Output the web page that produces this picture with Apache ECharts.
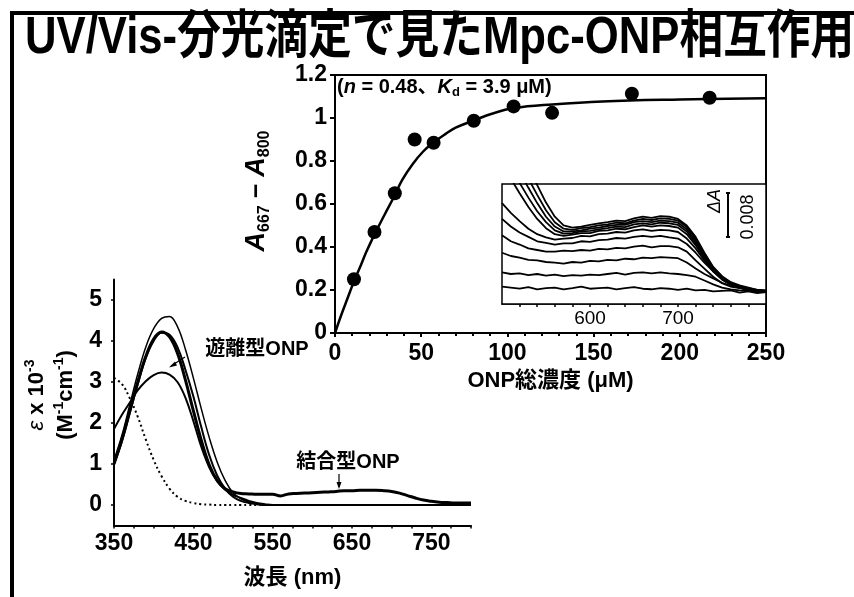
<!DOCTYPE html>
<html><head><meta charset="utf-8">
<script src="https://cdn.jsdelivr.net/npm/echarts@6/dist/echarts.min.js"></script>
<style>html,body{margin:0;padding:0;background:#fff}#c{width:854px;height:597px}</style>
</head><body><div id="c"></div><script>
// ---- Titration (top-right) ----
const titrationConc = [11.0, 22.9, 34.7, 46.2, 57.2, 80.5, 103.6, 125.9, 172.2, 217.3];
const titrationA = [0.25, 0.47, 0.65, 0.90, 0.885, 0.987, 1.054, 1.024, 1.113, 1.094];
const fitConc = [0, 3, 7.5, 11, 15, 18, 23, 28.75, 34, 39, 45, 51, 57, 64, 70, 81, 91, 104, 126, 155, 200, 250];
const fitA = [0, 0.07, 0.166, 0.24, 0.315, 0.374, 0.46, 0.55, 0.63, 0.712, 0.785, 0.843, 0.885, 0.925, 0.955, 0.99, 1.02, 1.046, 1.063, 1.077, 1.086, 1.092];
const titrationXTicks = ['0', '50', '100', '150', '200', '250'];
const titrationYTicks = ['0', '0.2', '0.4', '0.6', '0.8', '1', '1.2'];

// ---- Inset difference spectra (values in units of 0.001 ΔA) ----
const insetNm = [500,510,520,530,540,550,560,570,580,590,600,610,620,630,640,650,660,670,680,690,700,710,720,730,740,750,760,770,780,790,800];
const insetA = [3.2,3.0,2.8,3.1,2.7,2.9,3.0,2.7,2.9,3.2,2.8,2.9,3.0,2.7,2.9,3.1,2.8,2.7,2.9,2.8,2.6,2.8,2.5,2.6,2.3,2.4,2.5,2.1,2.3,2.0,2.2];
const insetB = [5.8,5.5,5.6,5.3,5.5,5.2,5.4,5.1,5.3,5.2,5.4,5.3,5.5,5.7,5.4,5.7,5.8,5.6,5.8,5.6,5.5,5.3,5.0,4.3,3.6,3.0,2.7,2.5,2.4,2.2,2.3];
const insetC = [9.4,8.8,8.5,8.1,8.0,7.7,7.6,7.4,7.7,7.6,7.9,7.8,8.1,8.0,8.3,8.2,8.5,8.4,8.6,8.5,8.4,7.6,6.5,5.5,4.7,3.9,3.3,3.0,2.7,2.5,2.4];
const insetD = [12.6,11.5,10.9,10.2,9.9,9.6,9.6,9.8,9.7,9.9,9.8,10.1,10.0,10.3,10.2,10.5,10.7,10.4,10.6,10.6,10.4,9.6,8.0,6.5,5.0,3.8,3.2,2.9,2.6,2.5,2.4];
const insetE = [15.6,14.2,13.1,12.3,11.5,11.2,10.9,11.1,11.1,11.5,11.4,11.7,11.8,12.1,12.0,12.3,12.5,12.3,12.5,12.2,12.0,11.0,9.4,7.6,6.0,4.6,3.6,3.0,2.7,2.5,2.4];
const insetF = [18.5,16.7,15.2,13.8,12.8,12.2,11.8,12.0,12.1,12.5,12.4,12.8,12.9,13.2,13.1,13.5,13.7,13.4,13.6,13.5,13.2,12.0,10.2,8.0,6.0,4.5,3.5,3.0,2.6,2.4,2.3];
const insetG = [26,23,20.3,17.8,15.6,13.9,12.8,12.5,12.7,13.0,13.0,13.4,13.5,13.8,13.7,14.1,14.4,14.2,14.4,14.3,14.0,12.8,10.8,8.3,6.0,4.5,3.6,3.0,2.6,2.4,2.2];
const insetH = [28,25,22.2,19.5,17.0,15.0,13.5,12.9,13.0,13.3,13.4,13.7,13.9,14.2,14.1,14.6,14.8,14.6,14.9,14.8,14.5,13.3,11.2,8.6,6.2,4.7,3.7,3.1,2.7,2.4,2.3];
const insetI = [30,27,24.2,21.3,18.5,16.0,14.2,13.3,13.3,13.5,13.8,14.0,14.3,14.5,14.5,15.0,15.2,15.0,15.3,15.2,14.9,13.7,11.6,8.9,6.4,4.8,3.8,3.2,2.8,2.5,2.3];
const insetJ = [32,29,26,23,20,17.2,15.0,13.8,13.6,13.9,14.1,14.4,14.6,14.9,14.8,15.3,15.6,15.4,15.7,15.6,15.3,14.1,12.0,9.2,6.6,5.0,3.9,3.3,2.9,2.6,2.4];
const insetK = [34,31,28,25,21.8,18.6,16.0,14.4,14.0,14.2,14.5,14.8,15.0,15.3,15.2,15.7,16.0,15.8,16.1,16.0,15.6,14.4,12.3,9.4,6.8,5.1,4.0,3.4,3.0,2.6,2.5];
const insetXLabels = [600, 700];
const insetXTicks = [520,540,560,580,600,620,640,660,680,700,720,740,760,780];

// ---- Absorption spectra (bottom-left), ε x 10^-3 ----
const specNm = [350,360,370,380,390,400,410,420,430,440,450,460,470,480,490,500,510,520,530,540,550,560,570,580,590,600,610,620,630,640,650,660,670,680,690,700,710,720,730,740,750,760,770,780,790,800];
const specDotted = [3.1,2.95,2.6,2.15,1.6,1.1,0.7,0.4,0.2,0.1,0.05,0.02,0.01,0,0,0,0,0,0,0,0,0,0,0,0,0,0,0,0,0,0,0,0,0,0,0,0,0,0,0,0,0,0,0,0,0];
const specFree = [1.85,2.2,2.5,2.8,3.02,3.17,3.23,3.18,3.0,2.62,2.05,1.42,0.92,0.58,0.37,0.25,0.17,0.1,0.05,0.02,0,0,0,0,0,0,0,0,0,0,0,0,0,0,0,0,0,0,0,0,0,0,0,0,0,0];
const specBound = [1.0,1.6,2.3,3.0,3.62,4.05,4.22,4.1,3.7,3.05,2.3,1.58,0.98,0.6,0.4,0.32,0.28,0.27,0.26,0.26,0.26,0.22,0.27,0.28,0.29,0.3,0.31,0.32,0.33,0.35,0.35,0.36,0.36,0.36,0.35,0.33,0.29,0.23,0.17,0.12,0.09,0.07,0.06,0.05,0.05,0.05];
const specMid = [1.0,1.55,2.25,2.95,3.58,4.0,4.2,4.15,3.85,3.3,2.65,1.9,1.22,0.72,0.4,0.2,0.1,0.05,0.02,0,0,0,0,0,0,0,0,0,0,0,0,0,0,0,0,0,0,0,0,0,0,0,0,0,0,0];
const specTop = [1.1,1.7,2.45,3.2,3.85,4.3,4.55,4.6,4.35,3.8,3.1,2.35,1.65,1.05,0.6,0.3,0.15,0.07,0.03,0.01,0,0,0,0,0,0,0,0,0,0,0,0,0,0,0,0,0,0,0,0,0,0,0,0,0,0];
const specXLabels = [350, 450, 550, 650, 750];
const specXTicks = [350,375,400,425,450,475,500,525,550,575,600,625,650,675,700,725,750,775,800];
const specYLabels = [0, 1, 2, 3, 4, 5];

const FONT = '"Liberation Sans", Arial, sans-serif';
const JFONT = '"Liberation Sans", "Noto Sans CJK JP", sans-serif';
const pair = (xs, ys) => xs.map((x, i) => [x, ys[i]]);
const blk = '#000';

const insetSeries = [insetA, insetB, insetC, insetD, insetE, insetF, insetG, insetH, insetI, insetJ, insetK].map(arr => ({
  type: 'line', xAxisIndex: 1, yAxisIndex: 1, data: pair(insetNm, arr), showSymbol: false,
  lineStyle: {color: blk, width: 1.8}, smooth: false, z: 5
}));

const chart = echarts.init(document.getElementById('c'));
chart.setOption({
  animation: false,
  backgroundColor: '#fff',
  grid: [
    {left: 335, top: 75, width: 431, height: 258, show: true, borderColor: blk, borderWidth: 2, backgroundColor: 'transparent'},
    {left: 502, top: 184, width: 264, height: 120, show: true, borderColor: blk, borderWidth: 1.5, backgroundColor: '#fff', z: 3},
    {left: 114, top: 279.5, width: 357, height: 246}
  ],
  xAxis: [
    {gridIndex: 0, type: 'value', min: 0, max: 250, interval: 50,
     axisLine: {lineStyle: {color: blk, width: 2}},
     axisTick: {show: true, length: 4, lineStyle: {color: blk, width: 2}},
     minorTick: {show: true, splitNumber: 5, length: 3, lineStyle: {color: blk, width: 2}},
     splitLine: {show: false},
     axisLabel: {color: blk, fontSize: 23, fontWeight: 'bold', fontFamily: FONT, margin: 9,
       formatter: (v) => titrationXTicks[Math.round(v / 50)]},
     name: 'ONP総濃度 (μM)', nameLocation: 'middle', nameGap: 37,
     nameTextStyle: {color: blk, fontSize: 22, fontWeight: 'bold', fontFamily: JFONT}},
    {gridIndex: 1, type: 'value', min: 500, max: 800, interval: 100,
     axisLine: {lineStyle: {color: blk, width: 1.5}},
     axisTick: {show: true, length: 3, customValues: insetXTicks, lineStyle: {color: blk, width: 1.5}},
     splitLine: {show: false},
     axisLabel: {color: blk, fontSize: 19, fontFamily: FONT, margin: 5, customValues: insetXLabels}},
    {gridIndex: 2, type: 'value', min: 350, max: 800,
     axisLine: {onZero: false, lineStyle: {color: blk, width: 2}},
     axisTick: {show: true, length: 3, customValues: specXTicks, lineStyle: {color: blk, width: 1.5}},
     splitLine: {show: false},
     axisLabel: {color: blk, fontSize: 23, fontWeight: 'bold', fontFamily: FONT, margin: 7, customValues: specXLabels},
     name: '波長 (nm)', nameLocation: 'middle', nameGap: 41,
     nameTextStyle: {color: blk, fontSize: 22, fontWeight: 'bold', fontFamily: JFONT}}
  ],
  yAxis: [
    {gridIndex: 0, type: 'value', min: 0, max: 1.2, interval: 0.2,
     axisLine: {show: true, lineStyle: {color: blk, width: 2}},
     axisTick: {show: true, length: 5, lineStyle: {color: blk, width: 2}},
     splitLine: {show: false},
     axisLabel: {color: blk, fontSize: 23, fontWeight: 'bold', fontFamily: FONT, margin: 8,
       formatter: (v) => titrationYTicks[Math.round(v / 0.2)]}},
    {gridIndex: 1, type: 'value', min: 0, max: 22, show: false},
    {gridIndex: 2, type: 'value', min: -0.5, max: 5.5,
     axisLine: {show: true, onZero: false, lineStyle: {color: blk, width: 2}},
     axisTick: {show: true, length: 3, customValues: specYLabels, lineStyle: {color: blk, width: 1.5}},
     splitLine: {show: false},
     axisLabel: {color: blk, fontSize: 23, fontWeight: 'bold', fontFamily: FONT, margin: 12, customValues: specYLabels}}
  ],
  series: [
    {type: 'line', xAxisIndex: 0, yAxisIndex: 0, data: pair(fitConc, fitA), smooth: 0.4, showSymbol: false,
     lineStyle: {color: blk, width: 2.5}, z: 2},
    {type: 'scatter', xAxisIndex: 0, yAxisIndex: 0, data: pair(titrationConc, titrationA), symbol: 'circle', symbolSize: 14,
     itemStyle: {color: blk, opacity: 1}, z: 4},
    ...insetSeries,
    {type: 'line', xAxisIndex: 2, yAxisIndex: 2, data: pair(specNm, specDotted), smooth: 0.4, showSymbol: false,
     lineStyle: {color: blk, width: 2, type: [2, 3]}},
    {type: 'line', xAxisIndex: 2, yAxisIndex: 2, data: pair(specNm, specFree), smooth: 0.4, showSymbol: false,
     lineStyle: {color: blk, width: 2}},
    {type: 'line', xAxisIndex: 2, yAxisIndex: 2, data: pair(specNm, specBound), smooth: 0.4, showSymbol: false,
     lineStyle: {color: blk, width: 3}},
    {type: 'line', xAxisIndex: 2, yAxisIndex: 2, data: pair(specNm, specMid), smooth: 0.4, showSymbol: false,
     lineStyle: {color: blk, width: 2}},
    {type: 'line', xAxisIndex: 2, yAxisIndex: 2, data: pair(specNm, specTop), smooth: 0.4, showSymbol: false,
     lineStyle: {color: blk, width: 1.5}}
  ],
  graphic: [
    {type: 'polyline', shape: {points: [[12, 597], [12, 13], [854, 13]]}, style: {stroke: blk, lineWidth: 4, fill: null}, z: 10},
    {type: 'text', x: 25, y: 39, scaleX: 0.84, style: {text: 'UV/Vis-分光滴定で見たMpc-ONP相互作用', fill: blk,
      font: 'bold 52px "Liberation Sans", "Noto Sans CJK JP", sans-serif', verticalAlign: 'middle', align: 'left'}, z: 10},
    {type: 'text', x: 337, y: 87, style: {text: '{t|(}{i|n}{t| = 0.48、}{i|K}{s|d}{t| = 3.9 μM)}', verticalAlign: 'middle', align: 'left',
      rich: {t: {fontSize: 20, fontWeight: 'bold', fontFamily: JFONT, fill: blk, lineHeight: 24, verticalAlign: 'middle'},
             i: {fontSize: 20, fontWeight: 'bold', fontStyle: 'italic', fontFamily: FONT, fill: blk, lineHeight: 24, verticalAlign: 'middle'},
             s: {fontSize: 13, fontWeight: 'bold', fontFamily: FONT, fill: blk, lineHeight: 24, verticalAlign: 'bottom'}}}, z: 10},
    {type: 'text', x: 257, y: 191, rotation: Math.PI / 2, style: {text: '{a|A}{s|667}{m| − }{a|A}{s|800}', align: 'center', verticalAlign: 'middle',
      rich: {a: {fontSize: 27, fontWeight: 'bold', fontStyle: 'italic', fontFamily: FONT, fill: blk, lineHeight: 32, verticalAlign: 'middle'},
             s: {fontSize: 16, fontWeight: 'bold', fontFamily: FONT, fill: blk, lineHeight: 32, verticalAlign: 'bottom'},
             m: {fontSize: 25, fontWeight: 'bold', fontFamily: FONT, fill: blk, lineHeight: 32, verticalAlign: 'middle'}}}, z: 10},
    // inset scale bar
    {type: 'line', shape: {x1: 728, y1: 193, x2: 728, y2: 237}, style: {stroke: blk, lineWidth: 2}, z: 10},
    {type: 'line', shape: {x1: 726, y1: 193, x2: 730, y2: 193}, style: {stroke: blk, lineWidth: 2}, z: 10},
    {type: 'line', shape: {x1: 726, y1: 237, x2: 730, y2: 237}, style: {stroke: blk, lineWidth: 2}, z: 10},
    {type: 'text', x: 715, y: 201, rotation: Math.PI / 2, style: {text: 'ΔA', fill: blk, font: 'italic 18px "Liberation Sans", sans-serif', align: 'center', verticalAlign: 'middle'}, z: 10},
    {type: 'text', x: 748, y: 217, rotation: Math.PI / 2, style: {text: '0.008', fill: blk, font: '18px "Liberation Sans", sans-serif', align: 'center', verticalAlign: 'middle'}, z: 10},
    // spectra y-axis title
    {type: 'text', x: 37, y: 395, rotation: Math.PI / 2, style: {text: '{e|ε}{t| x 10}{p|-3}', align: 'center', verticalAlign: 'middle',
      rich: {e: {fontSize: 22, fontStyle: 'italic', fontFamily: FONT, fill: blk, lineHeight: 28, verticalAlign: 'middle'},
             t: {fontSize: 22, fontWeight: 'bold', fontFamily: FONT, fill: blk, lineHeight: 28, verticalAlign: 'middle'},
             p: {fontSize: 14, fontWeight: 'bold', fontFamily: FONT, fill: blk, lineHeight: 28, verticalAlign: 'top'}}}, z: 10},
    {type: 'text', x: 66, y: 395, rotation: Math.PI / 2, style: {text: '{t|(M}{p|-1}{t|cm}{p|-1}{t|)}', align: 'center', verticalAlign: 'middle',
      rich: {t: {fontSize: 22, fontWeight: 'bold', fontFamily: FONT, fill: blk, lineHeight: 28, verticalAlign: 'middle'},
             p: {fontSize: 14, fontWeight: 'bold', fontFamily: FONT, fill: blk, lineHeight: 28, verticalAlign: 'top'}}}, z: 10},
    // annotations
    {type: 'text', x: 257, y: 349, style: {text: '遊離型ONP', fill: blk, font: 'bold 20px "Liberation Sans", "Noto Sans CJK JP", sans-serif', align: 'center', verticalAlign: 'middle'}, z: 10},
    {type: 'line', shape: {x1: 185, y1: 357, x2: 171, y2: 366}, style: {stroke: blk, lineWidth: 1.2}, z: 10},
    {type: 'polygon', shape: {points: [[169, 367.5], [175, 361.5], [177, 365.5]]}, style: {fill: blk}, z: 10},
    {type: 'text', x: 348, y: 462, style: {text: '結合型ONP', fill: blk, font: 'bold 20px "Liberation Sans", "Noto Sans CJK JP", sans-serif', align: 'center', verticalAlign: 'middle'}, z: 10},
    {type: 'line', shape: {x1: 339, y1: 474, x2: 339, y2: 487}, style: {stroke: blk, lineWidth: 1.2}, z: 10},
    {type: 'polygon', shape: {points: [[339, 489], [336.5, 482], [341.5, 482]]}, style: {fill: blk}, z: 10}
  ]
});
</script></body></html>
